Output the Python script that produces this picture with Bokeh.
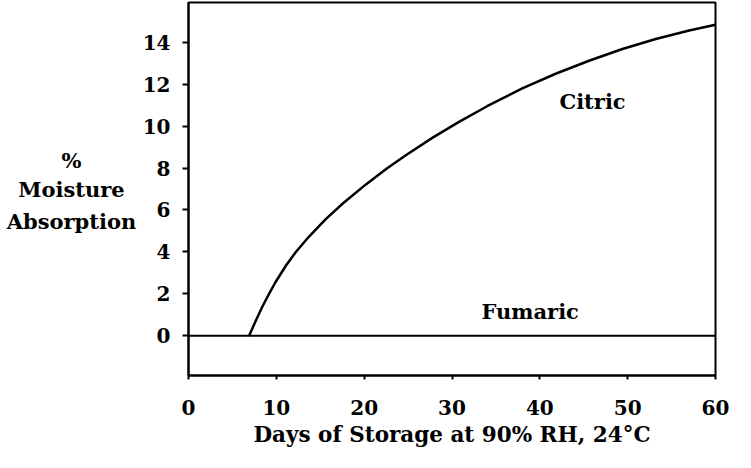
from bokeh.plotting import figure
from bokeh.models import Range1d, FixedTicker, Label
from bokeh.layouts import row
from bokeh.embed import file_html
from bokeh.resources import INLINE

# ---- data ----
citric_days = [6.9, 7.7, 8.4, 9.2, 9.9, 11.1, 12.2, 13.7, 15.6, 17.6, 20.2, 22.5, 24.7,
               27.8, 30.8, 34.0, 38.0, 41.8, 45.6, 49.4, 53.2, 57.0, 60.0]
citric_moisture = [0.0, 0.75, 1.38, 2.02, 2.55, 3.35, 3.98, 4.72, 5.55, 6.32, 7.22, 7.95, 8.6,
                   9.45, 10.2, 10.95, 11.8, 12.5, 13.12, 13.68, 14.16, 14.56, 14.84]
fumaric_days = [0.0, 60.0]
fumaric_moisture = [0.0, 0.0]

x_ticks = [0, 10, 20, 30, 40, 50, 60]
y_ticks = [0, 2, 4, 6, 8, 10, 12, 14]
y_title_lines = ["%", "Moisture", "Absorption"]
x_title = "Days of Storage at 90% RH, 24°C"
series_names = ["Citric", "Fumaric"]

FONT = "DejaVu Serif"
y_range = Range1d(-1.9, 15.9)

# ---- main chart ----
p = figure(
    output_backend="svg", toolbar_location=None,
    frame_width=527, frame_height=373,
    min_border_left=50, min_border_right=20, min_border_top=2, min_border_bottom=77,
    x_range=Range1d(0, 60), y_range=y_range,
    background_fill_color="white", border_fill_color="white",
)
p.xgrid.visible = False
p.ygrid.visible = False
p.outline_line_color = "black"
p.outline_line_width = 2
p.outline_line_alpha = 1.0

for ax in (p.xaxis[0], p.yaxis[0]):
    ax.axis_line_color = "black"
    ax.axis_line_width = 2
    ax.major_tick_line_color = "black"
    ax.major_tick_line_width = 2
    ax.major_tick_in = 0
    ax.minor_tick_line_color = None
    ax.major_label_text_font = FONT
    ax.major_label_text_font_style = "bold"
    ax.major_label_text_font_size = "20px"
    ax.major_label_text_color = "black"
    ax.axis_label_text_font = FONT
    ax.axis_label_text_font_style = "bold"
    ax.axis_label_text_color = "black"

p.xaxis.ticker = FixedTicker(ticks=x_ticks)
p.yaxis.ticker = FixedTicker(ticks=y_ticks)
p.xaxis.major_tick_out = 4
p.yaxis.major_tick_out = 6
p.xaxis.major_label_standoff = 20
p.yaxis.major_label_standoff = 12

p.xaxis.axis_label = x_title
p.xaxis.axis_label_text_font_size = "21.5px"
p.xaxis.axis_label_standoff = 4

p.line(fumaric_days, fumaric_moisture, line_color="black", line_width=2)
p.line(citric_days, citric_moisture, line_color="black", line_width=2.5, line_join="round")

p.add_layout(Label(x=46.0, y=11.18, text=series_names[0], text_align="center",
                   text_baseline="middle", text_font=FONT, text_font_style="bold",
                   text_font_size="21px", text_color="black"))
p.add_layout(Label(x=38.9, y=1.15, text=series_names[1], text_align="center",
                   text_baseline="middle", text_font=FONT, text_font_style="bold",
                   text_font_size="21px", text_color="black"))

# ---- y-axis title panel (three centred horizontal lines) ----
t = figure(
    output_backend="svg", toolbar_location=None,
    frame_width=138, frame_height=373,
    min_border_left=0, min_border_right=0, min_border_top=2, min_border_bottom=77,
    x_range=Range1d(0, 138), y_range=y_range,
    x_axis_location=None, y_axis_location=None,
    background_fill_color="white", border_fill_color="white",
)
t.xgrid.visible = False
t.ygrid.visible = False
t.outline_line_color = None
t.text(x=[71, 71, 71], y=[8.36, 6.98, 5.45], text=y_title_lines,
       text_align="center", text_baseline="middle", text_font={"value": FONT},
       text_font_style="bold", text_font_size="21px", text_color="black")

layout = row(t, p, spacing=0)
open("out.html", "w").write(file_html(layout, INLINE))
